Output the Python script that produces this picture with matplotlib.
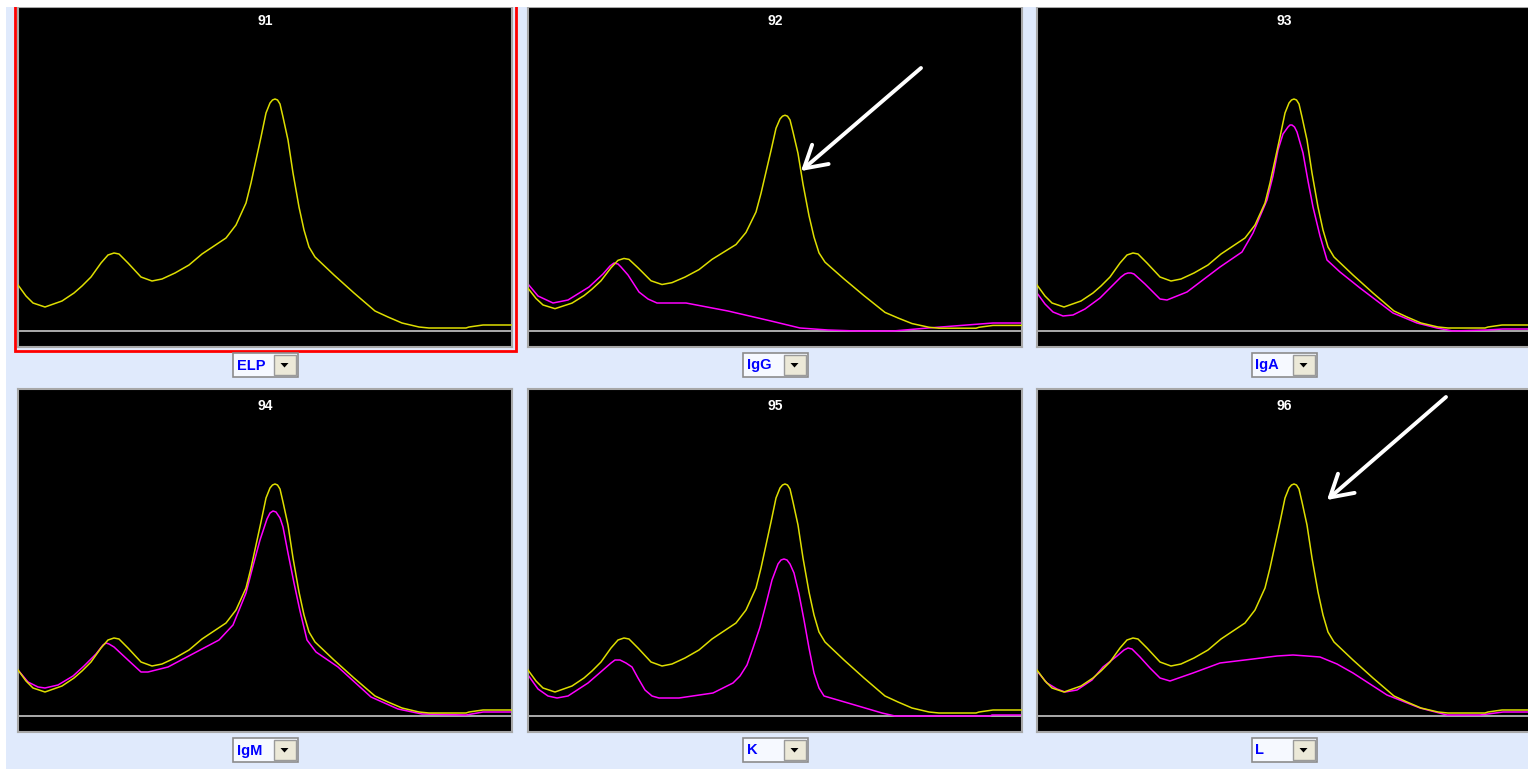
import matplotlib
matplotlib.use("Agg")
import matplotlib.pyplot as plt
from matplotlib.patches import Rectangle, Polygon

# ELP reference trace (scan position, height above baseline)
elp_x = [0, 8, 15, 27, 44, 56, 64, 73, 83, 90, 96, 101, 110, 123, 134, 144, 157, 171, 184,
         208, 218, 228, 233, 238, 243, 248, 252, 254.5, 257, 259.5, 262, 265, 270, 275, 281,
         286, 291, 297, 316, 336, 357, 370, 384, 401, 411, 448, 451, 465, 494]
elp_y = [46, 35, 28, 24, 30, 38, 45, 54, 68, 76, 78, 77, 68, 54, 50, 52, 58, 66, 77,
         93, 106, 128, 148, 171, 194, 218, 228, 231, 232, 231, 227, 214, 191, 158, 124,
         101, 84, 74, 56, 38, 20, 14, 8, 4, 3, 3, 4, 6, 6]

# immunofixation traces, one per antiserum
igg_x = [0, 10, 25, 40, 61, 75, 82, 86, 90, 93, 100, 111, 120, 129, 158, 200, 243, 272, 300, 329, 365, 400, 465, 494]
igg_y = [47, 35, 28, 31, 44, 57, 65, 68, 67, 64, 56, 39, 32, 28, 28, 20, 10, 3, 1, 0, 0, 3, 8, 8]

iga_x = [0, 8, 16, 26, 36, 48, 63, 75, 84, 88, 91, 94, 97, 108, 123, 130, 150, 183, 205, 216, 230,
         236, 241, 246, 251, 253, 255, 257.5, 260, 266, 271, 276, 283, 290, 303, 323, 356, 380, 400,
         416, 450, 466, 494]
iga_y = [38, 27, 19, 15, 16, 22, 33, 45, 54, 57, 58, 58, 57, 47, 32, 31, 39, 64, 79, 98, 131,
         155, 181, 197, 204, 206, 206, 204, 199, 178, 150, 124, 95, 71, 59, 43, 18, 8, 3,
         0, 1, 2, 2]

igm_x = [0, 10, 20, 27, 40, 55, 66, 78, 85, 88, 91, 96, 110, 123, 130, 150, 201, 215, 228, 235,
         242, 249, 252, 255, 258, 262, 265, 270, 276, 282, 289, 298, 320, 353, 380, 404, 448, 465, 494]
igm_y = [46, 34, 29, 28, 31, 40, 50, 62, 71, 73, 72, 69, 56, 44, 44, 49, 76, 91, 123, 150,
         176, 197, 203, 205, 204, 198, 189, 163, 133, 105, 76, 64, 49, 19, 7, 2, 1, 4, 4]

k_x = [0, 10, 20, 29, 40, 60, 75, 83, 87, 92, 98, 104, 110, 117, 124, 131, 151, 185, 205, 212,
       219, 225, 232, 238, 244, 250, 253, 256, 259, 262, 266, 271, 276, 281, 286, 291, 296, 320,
       354, 367, 462, 464, 494]
k_y = [41, 27, 20, 18, 20, 33, 46, 53, 56, 56, 53, 49, 38, 26, 20, 18, 18, 23, 33, 40,
       51, 68, 89, 112, 136, 152, 156, 157, 156, 152, 143, 122, 96, 68, 43, 28, 20, 13,
       3, 0, 0, 1, 1]

l_x = [0, 10, 20, 28, 40, 55, 66, 80, 87, 91, 95, 103, 113, 123, 133, 156, 183, 216, 240,
       256, 270, 283, 300, 316, 350, 383, 410, 443, 466, 494]
l_y = [45, 33, 27, 24, 26, 36, 49, 60, 66, 68, 67, 59, 48, 38, 35, 43, 53, 57, 60,
       61, 60, 59, 52, 43, 21, 8, 1, 1, 4, 4]

panel_ids = ["91", "92", "93", "94", "95", "96"]
antisera = ["ELP", "IgG", "IgA", "IgM", "K", "L"]
traces = [None, (igg_x, igg_y), (iga_x, iga_y), (igm_x, igm_y), (k_x, k_y), (l_x, l_y)]
elp_scale = [1.0, 0.93, 1.0, 1.0, 1.0, 1.0]

# arrows marking the missing band: (tip, tail) in trace units
arrows = {1: ((273, 160), (393, 263)), 5: ((290, 216), (409, 319))}

W, H = 1528, 769
BG = "#e0eafc"
YEL = "#dede00"
MAG = "#ff00ff"

fig = plt.figure(figsize=(W / 100, H / 100), dpi=100)
fig.patch.set_facecolor(BG)

col_left = [18, 528, 1037]
row_top = [7, 389]
row_h = [340, 343]
row_ymax = [324, 327]
title_off = [14, 17]
panel_w = 494
ybelow = 16


def px_axes(x, y, w, h, **kw):
    return fig.add_axes([x / W, 1 - (y + h) / H, w / W, h / H], **kw)


axes = []
for i in range(6):
    r, c = divmod(i, 3)
    ax = px_axes(col_left[c], row_top[r], panel_w, row_h[r])
    ax.set_facecolor("black")
    ax.set_xlim(0, panel_w)
    ax.set_ylim(-ybelow, row_ymax[r])
    ax.set_xticks([])
    ax.set_yticks([])
    for s in ax.spines.values():
        s.set_color("#a8a8a8")
        s.set_linewidth(1.5)
    ax.axhline(0, color="#c8c8c8", lw=1.2, zorder=1)
    ey = [v * elp_scale[i] for v in elp_y]
    ax.plot(elp_x, ey, color=YEL, lw=1.1, zorder=3, solid_joinstyle="round")
    if traces[i] is not None:
        tx, ty = traces[i]
        ax.plot(tx, ty, color=MAG, lw=1.1, zorder=2, solid_joinstyle="round")
    ax.text(0.5, 1 - title_off[r] / row_h[r], panel_ids[i], transform=ax.transAxes,
            ha="center", va="center", color="white", fontsize=10,
            fontweight="bold", family="Liberation Sans")
    if i in arrows:
        tip, tail = arrows[i]
        ax.annotate("", xy=tip, xytext=tail,
                    arrowprops=dict(arrowstyle="->,head_length=0.65,head_width=0.38",
                                    color="white", lw=2.8, mutation_scale=24,
                                    shrinkA=0, shrinkB=0))
    axes.append(ax)

# window chrome: white frame edges, selection border, antiserum selectors
ui = fig.add_axes([0, 0, 1, 1], zorder=5)
ui.set_xlim(0, W)
ui.set_ylim(H, 0)
ui.axis("off")
ui.patch.set_alpha(0)

ui.add_patch(Rectangle((14.5, -5), 501, 355.5, fill=False, ec="#ff0000", lw=2.0))
ui.add_patch(Rectangle((0, 0), W, 7, fc="white", ec="none", zorder=10))
ui.add_patch(Rectangle((0, 0), 6, H, fc="white", ec="none", zorder=10))

box_w, box_h, btn_w = 65, 24, 22
for i, name in enumerate(antisera):
    r, c = divmod(i, 3)
    cx = col_left[c] + panel_w / 2
    top = row_top[r] + row_h[r] + 6
    left = cx - box_w / 2
    ui.add_patch(Rectangle((left, top), box_w, box_h, fc="#f6f9ff", ec="#8c8c8c", lw=1.2))
    bl = left + box_w - btn_w - 2
    ui.add_patch(Rectangle((bl, top + 2), btn_w, box_h - 4, fc="#ece9d8", ec="#9a9a9a", lw=1.0))
    bx, by = bl + btn_w / 2, top + box_h / 2
    ui.add_patch(Polygon([(bx - 4, by - 2), (bx + 4, by - 2), (bx, by + 2.5)], closed=True,
                         fc="black", ec="none"))
    ui.text(left + 4, by + 0.5, name, ha="left", va="center", color="#0000ff",
            fontsize=10.5, fontweight="bold", family="Liberation Sans")

fig.savefig("out.png", dpi=100, facecolor=fig.get_facecolor())
